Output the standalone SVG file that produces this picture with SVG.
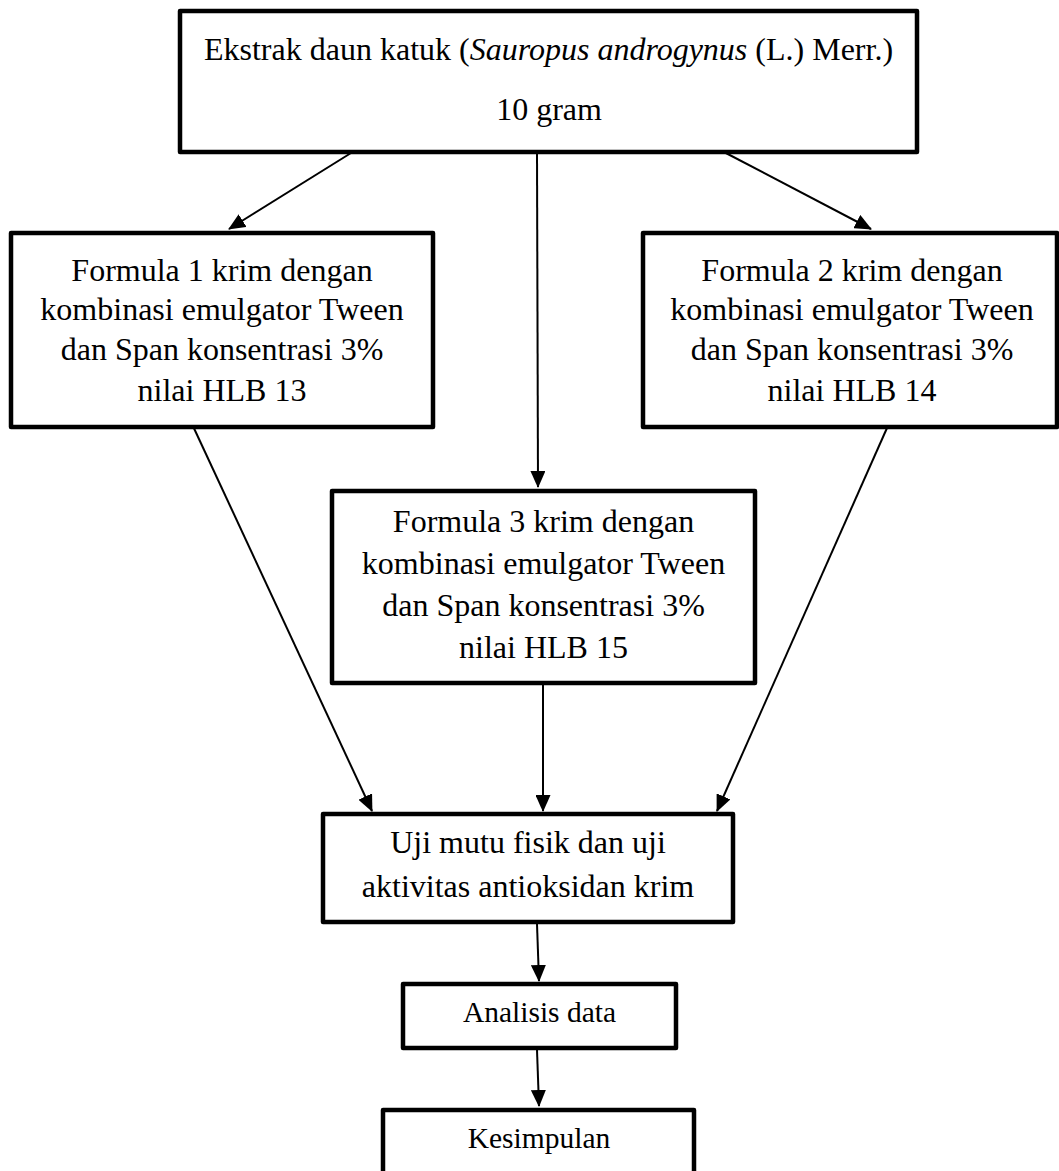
<svg xmlns="http://www.w3.org/2000/svg" width="1059" height="1171" viewBox="0 0 1059 1171">
<style>
.box{fill:#fff;stroke:#000;stroke-width:4.5;stroke-linejoin:round}
.t{font-family:"Liberation Serif","Times New Roman",serif;font-size:32px;fill:#000;text-anchor:middle}
.s{font-size:29.5px}
.c{stroke:#000;stroke-width:2;fill:none;marker-end:url(#ah)}
</style>
<defs>
<marker id="ah" viewBox="0 0 17 15" refX="16" refY="7.5" markerWidth="17" markerHeight="15" markerUnits="userSpaceOnUse" orient="auto">
<path d="M0,0 L17,7.5 L0,15 z" fill="#000"/>
</marker>
</defs>
<rect width="1059" height="1171" fill="#fff"/>
<g id="connectors">
<line class="c" x1="351" y1="153" x2="229" y2="229"/>
<line class="c" x1="537" y1="153" x2="538" y2="487"/>
<line class="c" x1="722" y1="151" x2="871" y2="229"/>
<line class="c" x1="192" y1="424" x2="372" y2="811"/>
<line class="c" x1="543" y1="685" x2="543" y2="811"/>
<line class="c" x1="887" y1="428" x2="717" y2="811"/>
<line class="c" x1="537" y1="924" x2="539" y2="981"/>
<line class="c" x1="537" y1="1050" x2="539" y2="1106"/>
</g>
<g id="n-ekstrak">
<rect class="box" x="180" y="11" width="737" height="141"/>
<text class="t" x="548.5" y="60">Ekstrak daun katuk (<tspan font-style="italic">Sauropus androgynus</tspan> (L.) Merr.)</text>
<text class="t" x="549" y="120">10 gram</text>
</g>
<g id="n-f1">
<rect class="box" x="11" y="233" width="422" height="194"/>
<text class="t" x="222" y="281">Formula 1 krim dengan</text>
<text class="t" x="222" y="320">kombinasi emulgator Tween</text>
<text class="t" x="222" y="360">dan Span konsentrasi 3%</text>
<text class="t" x="222" y="401">nilai HLB 13</text>
</g>
<g id="n-f2">
<rect class="box" x="643" y="233" width="414" height="194"/>
<text class="t" x="852" y="281">Formula 2 krim dengan</text>
<text class="t" x="852" y="320">kombinasi emulgator Tween</text>
<text class="t" x="852" y="360">dan Span konsentrasi 3%</text>
<text class="t" x="852" y="401">nilai HLB 14</text>
</g>
<g id="n-f3">
<rect class="box" x="332" y="491" width="423" height="192"/>
<text class="t" x="543.5" y="532">Formula 3 krim dengan</text>
<text class="t" x="543.5" y="574">kombinasi emulgator Tween</text>
<text class="t" x="543.5" y="616">dan Span konsentrasi 3%</text>
<text class="t" x="543.5" y="658">nilai HLB 15</text>
</g>
<g id="n-uji">
<rect class="box" x="323" y="814" width="410" height="108"/>
<text class="t" x="528" y="853">Uji mutu fisik dan uji</text>
<text class="t" x="528" y="897">aktivitas antioksidan krim</text>
</g>
<g id="n-analisis">
<rect class="box" x="403" y="984" width="273" height="64"/>
<text class="t s" x="539.5" y="1022">Analisis data</text>
</g>
<g id="n-kesimpulan">
<rect class="box" x="383" y="1110" width="311" height="80"/>
<text class="t s" x="539" y="1148">Kesimpulan</text>
</g>
</svg>
